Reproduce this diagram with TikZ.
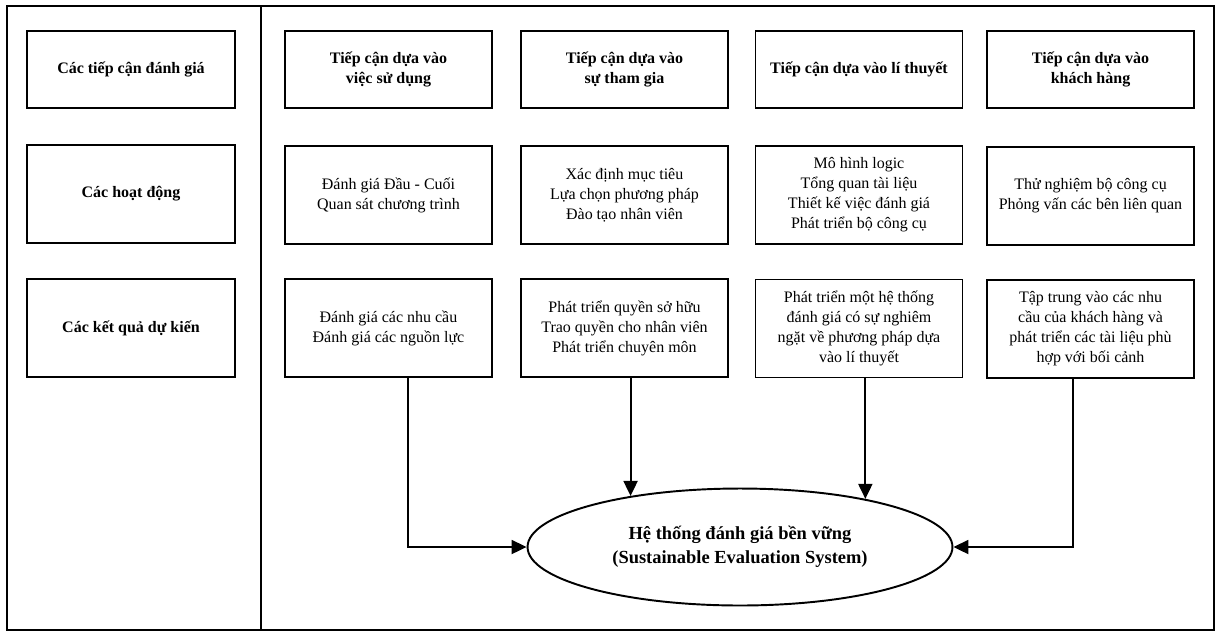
\documentclass[tikz,border=0pt]{standalone}
\usepackage{fontspec}
\setmainfont{Liberation Serif}
\usetikzlibrary{calc}
\usetikzlibrary{shapes.geometric}
\usetikzlibrary{arrows.meta}
\tikzset{
	% Two box styles for the grid: plain text and bold heading
	box node/.style={rectangle,draw,line width=0.8pt,minimum width=4.14cm,minimum height=1.96cm,inner sep=2pt,align=center,font=\fontsize{9.1}{11.4}\selectfont},
	head node/.style={box node,font=\fontsize{9.1}{11.4}\selectfont\bfseries},
	goal node/.style={ellipse,draw,line width=1.1pt,minimum width=8.5cm,minimum height=2.34cm,inner sep=0pt,align=center,font=\fontsize{10.5}{13.7}\selectfont\bfseries},
	flow/.style={line width=1.1pt,-{Triangle[length=3mm,width=2.8mm]}}
}

\begin{document}
\begin{tikzpicture}[x=0.02cm,y=-0.02cm]
			% macro for inputing boxes
			\newcommand{\hop}[4][box node]{\node(#2)[#1]at(#3){#4};}
			\useasboundingbox (0,0) rectangle (1219,633);
			% the two panels
			\draw[line width=1.4pt] (7,6) rectangle (261,630);
			\draw[line width=1.4pt] (261,6) rectangle (1214,630);

			% left panel: row titles
			\hop[head node,minimum height=1.54cm,minimum width=4.16cm]{tc-0}{131,69.5}{Các tiếp cận đánh giá}
			\hop[head node,minimum width=4.16cm]{hd-0}{131,194}{Các hoạt động}
			\hop[head node,minimum width=4.16cm]{kq-0}{131,328}{Các kết quả dự kiến}

			% row 1: approaches
			\hop[head node,minimum height=1.54cm]{tc-1}{388.5,69.5}{Tiếp cận dựa vào\\việc sử dụng}
			\hop[head node,minimum height=1.54cm]{tc-2}{624.5,69.5}{Tiếp cận dựa vào\\sự tham gia}
			\hop[head node,minimum height=1.54cm]{tc-3}{859,69.5}{Tiếp cận dựa vào lí thuyết}
			\hop[head node,minimum height=1.54cm]{tc-4}{1090.5,69.5}{Tiếp cận dựa vào\\khách hàng}

			% row 2: activities
			\hop{hd-1}{388.5,195}{Đánh giá Đầu - Cuối\\Quan sát chương trình}
			\hop{hd-2}{624.5,195}{Xác định mục tiêu\\Lựa chọn phương pháp\\Đào tạo nhân viên}
			\hop{hd-3}{859,195}{Mô hình logic\\Tổng quan tài liệu\\Thiết kế việc đánh giá\\Phát triển bộ công cụ}
			\hop{hd-4}{1090.5,196}{Thử nghiệm bộ công cụ\\Phỏng vấn các bên liên quan}

			% row 3: expected results
			\hop{kq-1}{388.5,328}{Đánh giá các nhu cầu\\Đánh giá các nguồn lực}
			\hop{kq-2}{624.5,328}{Phát triển quyền sở hữu\\Trao quyền cho nhân viên\\Phát triển chuyên môn}
			\hop{kq-3}{859,328.5}{Phát triển một hệ thống\\đánh giá có sự nghiêm\\ngặt về phương pháp dựa\\vào lí thuyết}
			\hop{kq-4}{1090.5,329}{Tập trung vào các nhu\\cầu của khách hàng và\\phát triển các tài liệu phù\\hợp với bối cảnh}

			% the goal
			\node(ht)[goal node] at (740,547) {Hệ thống đánh giá bền vững\\(Sustainable Evaluation System)};

			\draw[flow] ([xshift=0.39cm]kq-1.south) |- (ht.west);
			\draw[flow] (kq-2.south -| ht.155.8) -- (ht.155.8);
			\draw[flow] (kq-3.south -| ht.21.7) -- (ht.21.7);
			\draw[flow] ([xshift=-0.35cm]kq-4.south) |- (ht.east);
\end{tikzpicture}
\end{document}
